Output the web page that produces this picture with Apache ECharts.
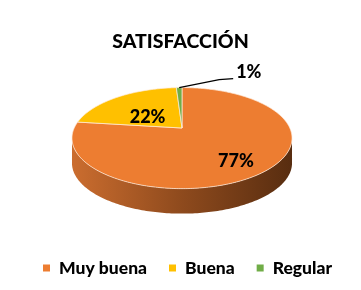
<!DOCTYPE html>
<html>
<head>
<meta charset="utf-8">
<script src="https://cdn.jsdelivr.net/npm/echarts@6/dist/echarts.min.js"></script>
<style>
html,body{margin:0;padding:0;background:#fff;}
#chart{width:361px;height:290px;}
</style>
</head>
<body>
<div id="chart"></div>
<script>
// ---- data ----
const categories = ['Muy buena', 'Buena', 'Regular'];
const values = [77, 22, 1];
const labels = ['77%', '22%', '1%'];
const colors = ['#ED7D31', '#FFC000', '#70AD47'];
const titleText = 'SATISFACCIÓN';

// ---- 3D pie geometry (style/layout) ----
const CX = 182, CY = 128;      // projected pie apex
const SX = 107.8, SY = 48.5;   // projection scales
const K = 0.2;                 // perspective strength
const DEPTH = 25;              // wall thickness
const FONT = 'Lato, "Open Sans", sans-serif';

const total = values.reduce((a, b) => a + b, 0);
const cum = [];
values.reduce((acc, v, i) => { cum[i] = acc; return acc + v; }, 0);

function project(theta, rho, dy) {
  const u = rho * Math.sin(theta), v = rho * Math.cos(theta);
  const d = 1 + K * v;
  return [CX + SX * u / d, CY - SY * v / d + (dy || 0)];
}
function arc(t0, t1, rho, dy) {
  const n = Math.max(2, Math.ceil((t1 - t0) / (Math.PI / 180)));
  const pts = [];
  for (let j = 0; j <= n; j++) pts.push(project(t0 + (t1 - t0) * j / n, rho, dy));
  return pts;
}
const TR = Math.acos(-K), TL = 2 * Math.PI - Math.acos(-K);

function makeRender(i) {
  return function (params, api) {
    const val = api.value(0);
    const t0 = cum[i] / total * 2 * Math.PI;
    const t1 = (cum[i] + val) / total * 2 * Math.PI;
    const children = [];
    // side wall
    const a0 = Math.max(t0, TR), a1 = Math.min(t1, TL);
    if (a1 > a0) {
      const top = arc(a0, a1, 1, 0);
      const bot = arc(a0, a1, 1, DEPTH).reverse();
      children.push({
        type: 'polygon',
        shape: { points: top.concat(bot) },
        style: {
          fill: new echarts.graphic.LinearGradient(0, 0, 1, 0, [
            { offset: 0, color: '#CB6D2F' },
            { offset: 0.5, color: '#8E4A1D' },
            { offset: 1, color: '#582D10' }
          ])
        }
      });
    }
    // top face
    const face = [[CX, CY]].concat(arc(t0, t1, 1, 0));
    children.push({
      type: 'polygon',
      shape: { points: face },
      style: { fill: colors[i], stroke: 'rgba(255,236,220,0.9)', lineWidth: 0.8 }
    });
    // label
    const mid = (t0 + t1) / 2;
    if (val / total >= 0.05) {
      const rho = val / total > 0.5 ? 0.68 : 0.5;
      const p = project(mid, rho, 6);
      children.push({
        type: 'text',
        x: p[0], y: p[1],
        style: { text: labels[i], fill: '#000', font: '900 18px ' + FONT, align: 'center', verticalAlign: 'middle' }
      });
    } else {
      const a = project(mid, 1, 0);
      children.push({
        type: 'polyline',
        shape: { points: [a, [a[0] + 40, a[1] - 8], [a[0] + 54, a[1] - 9]] },
        style: { stroke: '#000', lineWidth: 1.2, fill: null }
      });
      children.push({
        type: 'text',
        x: a[0] + 57, y: a[1] - 15,
        style: { text: labels[i], fill: '#000', font: '900 18px ' + FONT, align: 'left', verticalAlign: 'middle' }
      });
    }
    return { type: 'group', children: children };
  };
}

const chart = echarts.init(document.getElementById('chart'), null, { renderer: 'canvas' });
chart.setOption({
  animation: false,
  backgroundColor: '#fff',
  title: {
    text: titleText,
    left: 'center',
    top: 27,
    textStyle: { fontFamily: FONT, fontWeight: 900, fontSize: 19.5, color: '#000' }
  },
  legend: {
    data: categories,
    left: 38,
    top: 254,
    icon: 'rect',
    itemWidth: 7,
    itemHeight: 7,
    itemGap: 22,
    textStyle: { fontFamily: FONT, fontWeight: 900, fontSize: 17.5, color: '#000', padding: [0, 0, 0, 4] },
    selectedMode: false
  },
  series: categories.map((name, i) => ({
    type: 'custom',
    name: name,
    coordinateSystem: 'none',
    silent: true,
    itemStyle: { color: colors[i] },
    renderItem: makeRender(i),
    data: [[values[i]]]
  }))
});
</script>
</body>
</html>
